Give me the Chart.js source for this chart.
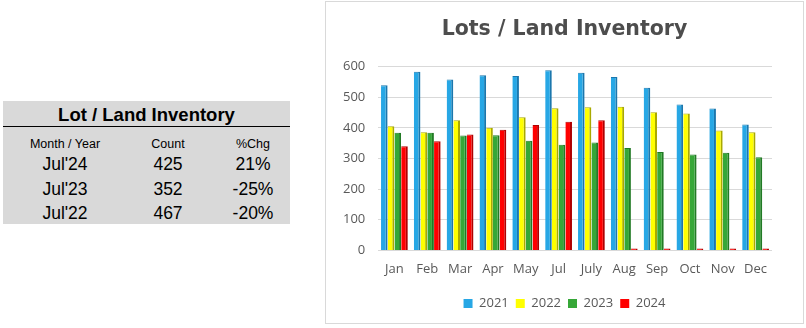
<!DOCTYPE html>
<html>
<head>
<meta charset="utf-8">
<script src="https://cdn.jsdelivr.net/npm/chart.js@4"></script>
<style>
  body { margin: 0; background: #fff; font-family: "Liberation Sans", Arial, sans-serif; }
  #table { position: absolute; left: 3px; top: 101px; width: 287px; height: 123px; background: #d9d9d9; color: #000; }
  #table .ttl { text-align: center; font-weight: bold; font-size: 18.5px; height: 25px; line-height: 27px; border-bottom: 1px solid #000; }
  #table .row { position: relative; height: 24.5px; }
  #table .row span { position: absolute; transform: translateX(-50%); white-space: nowrap; }
  #table .hdr { height: 20px; font-size: 12.5px; line-height: 34px; }
  #table .val { font-size: 17.5px; line-height: 35px; }
  #frame { position: absolute; left: 325px; top: 1px; width: 477px; height: 321px; border: 1px solid #d9d9d9; }
</style>
</head>
<body>
<div id="table">
  <div class="ttl">Lot / Land Inventory</div>
  <div class="row hdr"><span style="left:62px">Month / Year</span><span style="left:165px">Count</span><span style="left:250px">%Chg</span></div>
  <div class="row val"><span style="left:62px">Jul'24</span><span style="left:165px">425</span><span style="left:250px">21%</span></div>
  <div class="row val"><span style="left:62px">Jul'23</span><span style="left:165px">352</span><span style="left:250px">-25%</span></div>
  <div class="row val"><span style="left:62px">Jul'22</span><span style="left:165px">467</span><span style="left:250px">-20%</span></div>
</div>
<div id="frame"><canvas id="chart" width="477" height="321"></canvas></div>
<script>
const months = ['Jan', 'Feb', 'Mar', 'Apr', 'May', 'Jul', 'July', 'Aug', 'Sep', 'Oct', 'Nov', 'Dec'];
const y2021 = [539, 583, 558, 572, 569, 588, 580, 566, 531, 476, 463, 411];
const y2022 = [405, 386, 425, 400, 435, 464, 467, 469, 451, 447, 391, 386];
const y2023 = [384, 384, 375, 376, 358, 345, 352, 334, 321, 313, 319, 304];
const y2024 = [340, 356, 378, 394, 409, 420, 425, 0, 0, 0, 0, 0];
const yTicks = [0, 100, 200, 300, 400, 500, 600];

const txt = '#595959';

function series(label, data, fill, edge) {
  return {
    label: label,
    data: data,
    backgroundColor: fill,
    borderColor: edge,
    borderWidth: { top: 1, right: 2, bottom: 0, left: 0 },
    borderSkipped: false,
    categoryPercentage: 0.82,
    barPercentage: 0.98,
    minBarLength: 2
  };
}

new Chart(document.getElementById('chart'), {
  type: 'bar',
  data: {
    labels: months,
    datasets: [
      series('2021', y2021, '#27a7e5', '#1b77ad'),
      series('2022', y2022, '#ffff00', '#a9a900'),
      series('2023', y2023, '#36a738', '#227a25'),
      series('2024', y2024, '#ff0000', '#b00000')
    ]
  },
  options: {
    responsive: false,
    animation: false,
    layout: { padding: { left: 31, right: 31, top: 6, bottom: 3 } },
    plugins: {
      title: {
        display: true,
        text: 'Lots / Land Inventory',
        color: '#4d4d4d',
        font: { family: 'DejaVu Sans', size: 20.5, weight: 'bold' },
        padding: { top: 9, bottom: 25 }
      },
      legend: {
        position: 'bottom',
        labels: {
          color: txt,
          font: { family: 'Open Sans', size: 13 },
          boxWidth: 9,
          boxHeight: 9,
          padding: 7,
          generateLabels: (chart) => chart.data.datasets.map((ds, i) => ({
            text: ds.label,
            fillStyle: ds.backgroundColor,
            strokeStyle: ds.backgroundColor,
            lineWidth: 0,
            fontColor: txt,
            datasetIndex: i
          }))
        }
      },
      tooltip: { enabled: false }
    },
    scales: {
      x: {
        grid: { display: false },
        border: { display: false },
        ticks: { color: txt, font: { family: 'Open Sans', size: 13 }, padding: 3 },
        afterFit: (axis) => { axis.height += 10; }
      },
      y: {
        min: 0,
        max: 600,
        afterBuildTicks: (axis) => { axis.ticks = yTicks.map(v => ({ value: v })); },
        afterFit: (axis) => { axis.width = 21; },
        grid: { color: '#d9d9d9', drawTicks: false },
        border: { display: false },
        // mirrored + far so the right-aligned labels can sit left of the narrow axis box
        ticks: { color: txt, font: { family: 'Open Sans', size: 13 }, mirror: true, crossAlign: 'far', padding: -35 }
      }
    }
  }
});
</script>
</body>
</html>
